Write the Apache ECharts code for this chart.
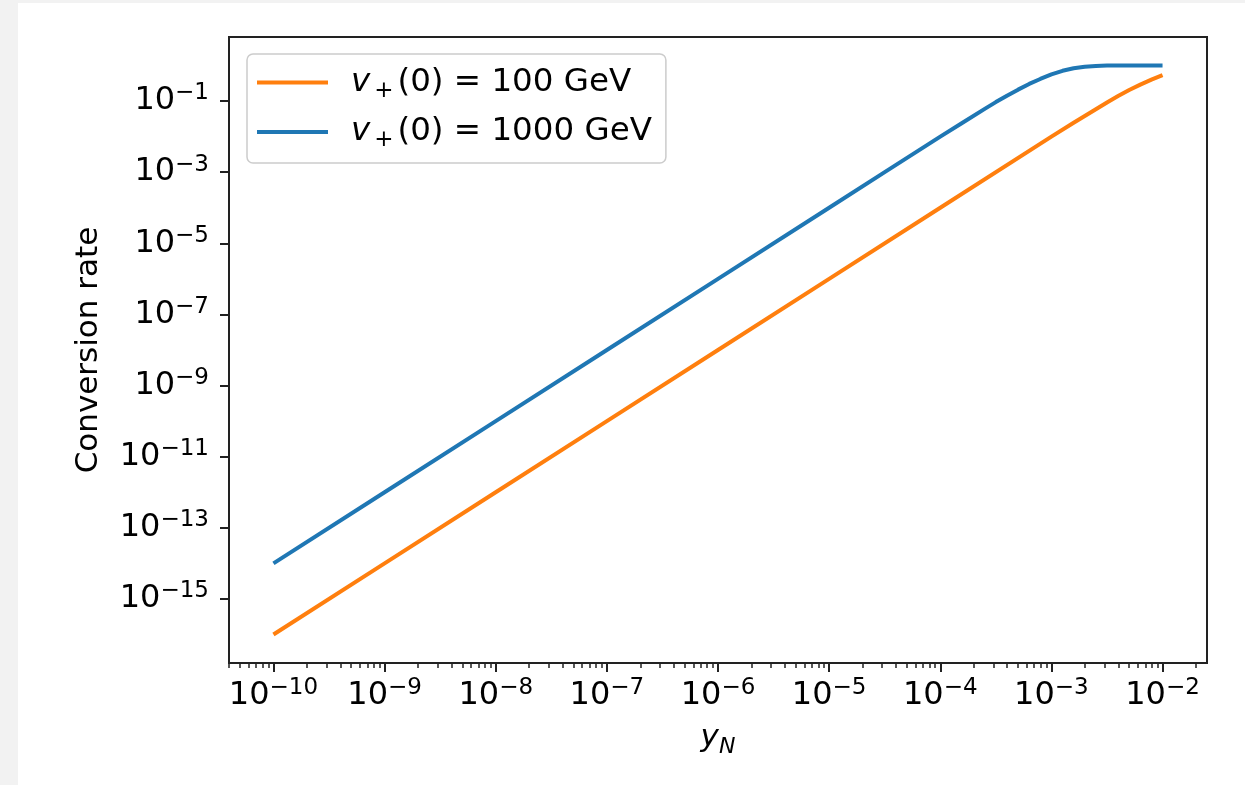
<!DOCTYPE html>
<html><head><meta charset="utf-8">
<script src="https://cdn.jsdelivr.net/npm/echarts@6/dist/echarts.min.js"></script>
<style>
html,body{margin:0;padding:0;background:#f2f2f2;width:1245px;height:785px;overflow:hidden}
#c{position:absolute;left:18px;top:3px;width:1227px;height:782px;background:#fff}
</style></head><body><div id="c"></div>
<script>
// log10(y_N) and log10(conversion rate)
const xOrange = [-10, -9, -8, -7, -6, -5, -4, -3, -2.8, -2.6, -2.5, -2.4, -2.3, -2.2, -2.1, -2.0];
const yOrange = [-16, -14, -12, -10, -8, -6, -4, -2, -1.61, -1.23, -1.04, -0.86, -0.69, -0.54, -0.40, -0.27];
const xBlue = [-10, -9, -8, -7, -6, -5, -4.5, -4, -3.8, -3.6, -3.5, -3.4, -3.3, -3.2, -3.1, -3.0, -2.9, -2.8, -2.7, -2.6, -2.5, -2.3, -2.0];
const yBlue = [-14, -12, -10, -8, -6, -4, -3.0, -2.0, -1.61, -1.22, -1.03, -0.85, -0.68, -0.52, -0.38, -0.25, -0.15, -0.08, -0.035, -0.012, -0.003, 0, 0];
const seriesNames = ['v+(0) = 100 GeV', 'v+(0) = 1000 GeV'];
const legendRich = ['{it|v}{sub|+}{t|(0) = 100 GeV}', '{it|v}{sub|+}{t|(0) = 1000 GeV}'];
const xTickExps = [-10, -9, -8, -7, -6, -5, -4, -3, -2];
const yTickExps = [-15, -13, -11, -9, -7, -5, -3, -1];
const xRange = [-10.4, -1.6];
const yRange = [-16.8, 0.8];

const FONT = 'DejaVu Sans';
const minorX = [];
for (let d = -11; d <= -2; d++) {
  for (let k = 2; k <= 9; k++) {
    const v = d + Math.log10(k);
    if (v > xRange[0] && v < xRange[1]) minorX.push(v);
  }
}
function pow10Label(v) {
  const e = Math.round(v);
  return '{b|10}{s|' + (e < 0 ? '\u2212' : '') + Math.abs(e) + '}';
}
const tickRich = {
  b: {fontFamily: FONT, fontSize: 32, lineHeight: 38, color: '#000'},
  s: {fontFamily: FONT, fontSize: 23, lineHeight: 20, verticalAlign: 'top', color: '#000'}
};
const axisCol = '#222';
const chart = echarts.init(document.getElementById('c'), null, {renderer: 'canvas'});
chart.setOption({
  animation: false,
  backgroundColor: '#fff',
  grid: {left: 211, top: 34, right: 38, bottom: 122, show: true, borderColor: axisCol, borderWidth: 2, backgroundColor: 'transparent'},
  legend: {
    orient: 'vertical', left: 229, top: 51,
    data: seriesNames, icon: 'rect', itemWidth: 71, itemHeight: 4, itemGap: 13,
    padding: [12, 14, 11, 10],
    backgroundColor: '#fff', borderColor: '#cccccc', borderWidth: 1.5, borderRadius: 6,
    selectedMode: false,
    formatter: function (name) { return legendRich[seriesNames.indexOf(name)]; },
    textStyle: {
      rich: {
        it: {fontFamily: FONT, fontStyle: 'italic', fontSize: 32.5, lineHeight: 40, color: '#000', padding: [0, 0, 0, 18]},
        sub: {fontFamily: FONT, fontSize: 23, lineHeight: 24, verticalAlign: 'bottom', color: '#000', padding: [0, 4, 0, 4]},
        t: {fontFamily: FONT, fontSize: 32.5, lineHeight: 40, color: '#000'}
      }
    }
  },
  xAxis: [{
    type: 'value', min: xRange[0], max: xRange[1],
    axisLine: {show: true, onZero: false, lineStyle: {color: axisCol, width: 2}},
    axisTick: {show: true, customValues: xTickExps, length: 9, lineStyle: {color: axisCol, width: 2}},
    axisLabel: {show: true, customValues: xTickExps, formatter: pow10Label, margin: 14, rich: tickRich},
    splitLine: {show: false},
    name: '{i|y}{n|N}', nameLocation: 'middle', nameGap: 55,
    nameTextStyle: {rich: {
      i: {fontFamily: FONT, fontStyle: 'italic', fontSize: 31, lineHeight: 40, color: '#000'},
      n: {fontFamily: FONT, fontStyle: 'italic', fontSize: 22, lineHeight: 22, verticalAlign: 'bottom', color: '#000'}
    }}
  }, {
    type: 'value', min: xRange[0], max: xRange[1], position: 'bottom',
    axisLine: {show: false, onZero: false},
    axisTick: {show: true, customValues: minorX, length: 5, lineStyle: {color: axisCol, width: 1.5}},
    axisLabel: {show: false},
    splitLine: {show: false}
  }],
  yAxis: {
    type: 'value', min: yRange[0], max: yRange[1],
    axisLine: {show: true, onZero: false, lineStyle: {color: axisCol, width: 2}},
    axisTick: {show: true, customValues: yTickExps, length: 9, lineStyle: {color: axisCol, width: 2}},
    axisLabel: {show: true, customValues: yTickExps, formatter: pow10Label, margin: 20, rich: tickRich},
    splitLine: {show: false},
    name: 'Conversion rate', nameLocation: 'middle', nameRotate: 90, nameGap: 125,
    nameTextStyle: {fontFamily: FONT, fontSize: 31, color: '#000'}
  },
  series: [{
    name: seriesNames[0], type: 'line', showSymbol: false, symbol: 'none', smooth: false,
    lineStyle: {color: '#ff7f0e', width: 4}, itemStyle: {color: '#ff7f0e'},
    data: xOrange.map((x, i) => [x, yOrange[i]])
  }, {
    name: seriesNames[1], type: 'line', showSymbol: false, symbol: 'none', smooth: false,
    lineStyle: {color: '#1f77b4', width: 4}, itemStyle: {color: '#1f77b4'},
    data: xBlue.map((x, i) => [x, yBlue[i]])
  }]
});
</script></body></html>
